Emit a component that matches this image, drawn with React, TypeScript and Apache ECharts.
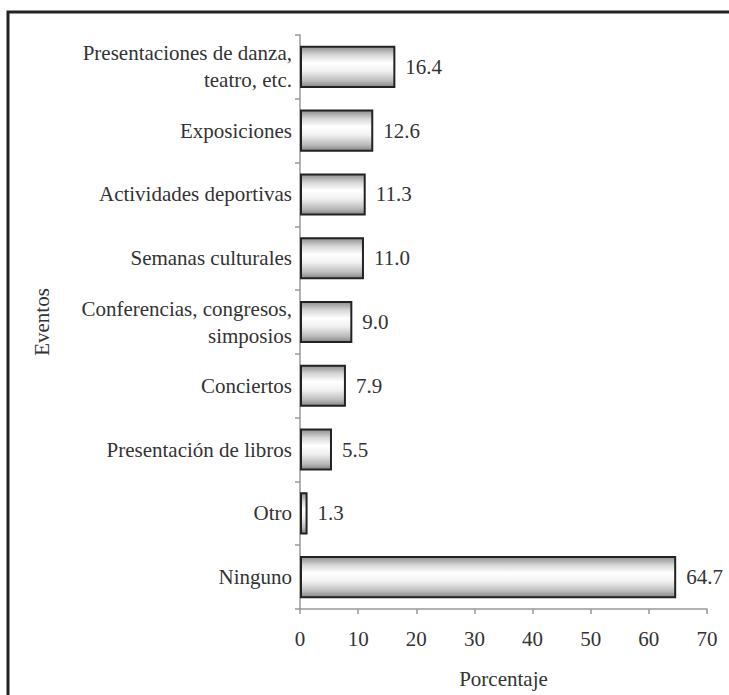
import React, { useEffect, useRef } from "react";
import * as echarts from "echarts";

const categories = [
  "Presentaciones de danza,\nteatro, etc.",
  "Exposiciones",
  "Actividades deportivas",
  "Semanas culturales",
  "Conferencias, congresos,\nsimposios",
  "Conciertos",
  "Presentación de libros",
  "Otro",
  "Ninguno",
];
const values = [16.4, 12.6, 11.3, 11.0, 9.0, 7.9, 5.5, 1.3, 64.7];
const xTicks = [0, 10, 20, 30, 40, 50, 60, 70];

const FONT = "Times New Roman";
const TXT = "#333";
const FS = 21;

export default function App() {
  const ref = useRef<HTMLDivElement>(null);
  useEffect(() => {
    const chart = echarts.init(ref.current!, null, { renderer: "svg" });
    chart.setOption({
      animation: false,
      backgroundColor: "#fff",
      textStyle: { fontFamily: FONT },
      graphic: [
        {
          type: "rect",
          shape: { x: 8, y: 12, width: 760, height: 760 },
          style: { fill: "none", stroke: "#222", lineWidth: 3 },
          silent: true,
        },
      ],
      grid: { left: 300, right: 22, top: 35, bottom: 86, containLabel: false },
      xAxis: {
        type: "value",
        min: xTicks[0],
        max: xTicks[xTicks.length - 1],
        interval: 10,
        name: "Porcentaje",
        nameLocation: "middle",
        nameGap: 59,
        nameTextStyle: { fontFamily: FONT, fontSize: FS, color: TXT },
        axisLine: { show: true, lineStyle: { color: "#999", width: 1.5 } },
        axisTick: { show: true, length: 5, lineStyle: { color: "#999", width: 1.5 } },
        axisLabel: { fontFamily: FONT, fontSize: FS, color: TXT, margin: 19 },
        splitLine: { show: false },
      },
      yAxis: {
        type: "category",
        inverse: true,
        data: categories,
        name: "Eventos",
        nameLocation: "middle",
        nameGap: 248,
        nameTextStyle: { fontFamily: FONT, fontSize: FS, color: TXT },
        axisLine: { show: true, lineStyle: { color: "#999", width: 1.5 } },
        axisTick: { show: true, length: 5, lineStyle: { color: "#999", width: 1.5 } },
        axisLabel: {
          fontFamily: FONT,
          fontSize: FS,
          color: TXT,
          margin: 8,
          lineHeight: 27,
          align: "right",
        },
      },
      series: [
        {
          type: "bar",
          data: values,
          barWidth: "66%",
          itemStyle: {
            borderColor: "#222",
            borderWidth: 2,
            color: new echarts.graphic.LinearGradient(0, 0, 0, 1, [
              { offset: 0, color: "#8e8e8e" },
              { offset: 0.2, color: "#d6d6d6" },
              { offset: 0.4, color: "#ffffff" },
              { offset: 0.6, color: "#f2f2f2" },
              { offset: 0.85, color: "#bcbcbc" },
              { offset: 1, color: "#858585" },
            ]),
          },
          label: {
            show: true,
            position: "right",
            distance: 10,
            fontFamily: FONT,
            fontSize: FS,
            color: TXT,
            formatter: (p: any) => Number(p.value).toFixed(1),
          },
        },
      ],
    });
    return () => chart.dispose();
  }, []);
  return (
    <div
      ref={ref}
      style={{ position: "fixed", left: 0, top: 0, width: 729, height: 695 }}
    />
  );
}
